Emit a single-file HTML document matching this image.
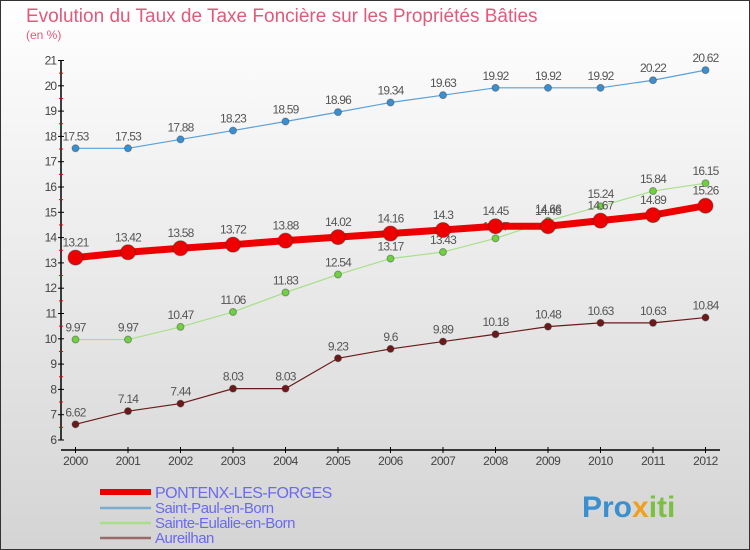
<!DOCTYPE html>
<html><head><meta charset="utf-8"><style>
body{margin:0;width:750px;height:550px;overflow:hidden;font-family:"Liberation Sans",sans-serif}
svg{display:block}
</style></head><body>
<svg id="c" width="750" height="550">
<defs><linearGradient id="bg" x1="0" y1="0" x2="0" y2="1"><stop offset="0" stop-color="#ffffff"/><stop offset="1" stop-color="#d4d4d4"/></linearGradient></defs>
<rect x="0.5" y="0.5" width="749" height="549" fill="url(#bg)" stroke="#333"/>
<text x="26" y="22" font-size="19" fill="#e05a7a">Evolution du Taux de Taxe Foncière sur les Propriétés Bâties</text>
<text x="26" y="39" font-size="12" fill="#e05a7a">(en %)</text>
<g id="axes"></g><g id="series"></g><g id="legend"></g>
<text x="582" y="517" font-size="30" font-weight="bold" fill="#3a8fd0">Pro<tspan fill="#f0a020">x</tspan><tspan fill="#7bc043">iti</tspan></text>
</svg>
<script>
const years=[2000,2001,2002,2003,2004,2005,2006,2007,2008,2009,2010,2011,2012];
const pontenx=[13.21,13.42,13.58,13.72,13.88,14.02,14.16,14.3,14.45,14.45,14.67,14.89,15.26];
const saintPaul=[17.53,17.53,17.88,18.23,18.59,18.96,19.34,19.63,19.92,19.92,19.92,20.22,20.62];
const sainteEulalie=[9.97,9.97,10.47,11.06,11.83,12.54,13.17,13.43,13.97,14.66,15.24,15.84,16.15];
const aureilhan=[6.62,7.14,7.44,8.03,8.03,9.23,9.6,9.89,10.18,10.48,10.63,10.63,10.84];
const yTicks=[6,7,8,9,10,11,12,13,14,15,16,17,18,19,20,21];
const names=["PONTENX-LES-FORGES","Saint-Paul-en-Born","Sainte-Eulalie-en-Born","Aureilhan"];
const NS="http://www.w3.org/2000/svg";
const X=i=>75.5+i*52.5, Y=v=>440-(v-6)*25.3;
function mk(tag,a,p){const e=document.createElementNS(NS,tag);for(const k in a)e.setAttribute(k,a[k]);p.appendChild(e);return e;}
const ax=document.getElementById('axes');
const yl=mk('line',{x1:61,y1:Y(21),x2:61,y2:Y(6),stroke:'#000','stroke-width':1.5},ax);


yTicks.forEach(v=>{
 mk('line',{x1:58,x2:64,y1:Y(v),y2:Y(v),stroke:'#000'},ax);
 if(v<21){mk('line',{x1:59,x2:63,y1:Y(v+0.5),y2:Y(v+0.5),stroke:'#e00'},ax);}
 const t=mk('text',{x:56,y:Y(v)+4,'font-size':12,'text-anchor':'end',fill:'#444','letter-spacing':'-1'},ax);
 t.textContent=v;
 
 
});
const xl=mk('line',{x1:61,y1:450,x2:720,y2:450,stroke:'#000','stroke-width':1.5},ax);


years.forEach((y,i)=>{
 mk('line',{x1:X(i),x2:X(i),y1:447,y2:453,stroke:'#000'},ax);
 const t=mk('text',{x:X(i),y:465,'font-size':12,'text-anchor':'middle',fill:'#444','letter-spacing':'-0.5'},ax);
 t.textContent=y;
 
 
});
const sg=document.getElementById('series');
const defs=[[aureilhan,'#6b1a1a',1.2,3.5,'aureilhan'],[sainteEulalie,'#6fd040',1.2,3.5,'sainte-eulalie'],[saintPaul,'#3a8fd0',1.2,3.5,'saint-paul'],[pontenx,'#ee0000',7,7.5,'pontenx']];
const lineCols=['#6b1a1a','#a8e08a','#5aa0d8','#ee0000'];
defs.forEach(([d,c,w,r,n],si)=>{
 const g=mk('g',{},sg);
 
 
 mk('polyline',{points:d.map((v,i)=>X(i)+','+Y(v)).join(' '),fill:'none',stroke:lineCols[si],'stroke-width':w},g);
 d.forEach((v,i)=>{
  const p=mk('circle',{cx:X(i),cy:Y(v),r:r,fill:c,stroke:'#333','stroke-opacity':0.4},g);
  
  
  const t=mk('text',{x:X(i),y:Y(v)-8-(r>5?3:0),'font-size':12,'text-anchor':'middle',fill:'#555','letter-spacing':'-0.8'},g);
  t.textContent=v;
  
  
 });
});
const lg=document.getElementById('legend');
const lc=['#ee0000','#7aaed0','#a8e08a','#9a6a6a'],lw=[6,2.5,2.5,2.5],ly=[492,508,523,538];
names.forEach((n,i)=>{
 const g=mk('g',{},lg);
 
 
 mk('line',{x1:100,x2:151,y1:ly[i],y2:ly[i],stroke:lc[i],'stroke-width':lw[i]},g);
 const t=mk('text',{x:155,y:ly[i]+(i==0?6:5),'font-size':i==0?16:15,fill:'#6a6aee','letter-spacing':'-0.5'},g);
 t.textContent=n;
});
</script>
</body></html>
